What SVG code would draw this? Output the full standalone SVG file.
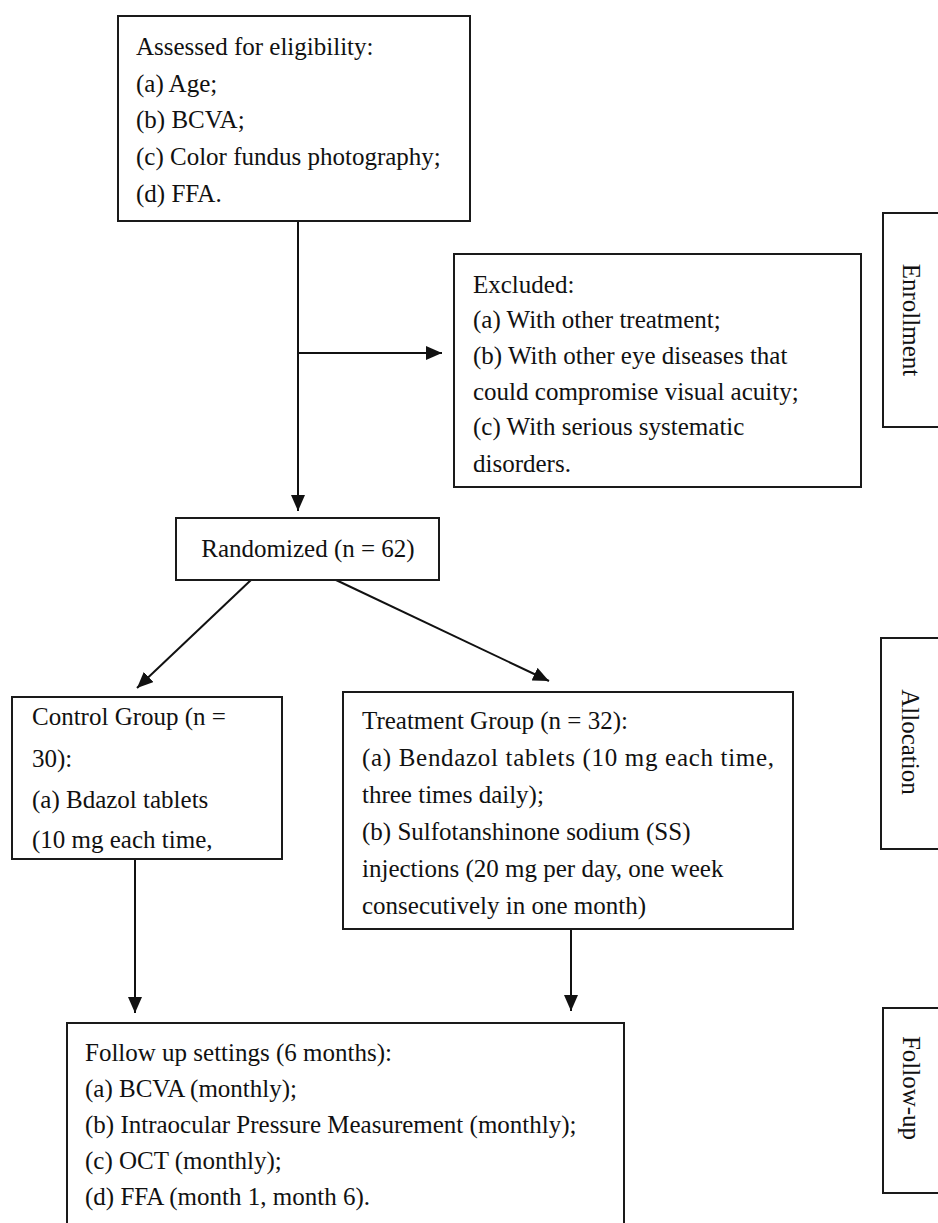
<svg xmlns="http://www.w3.org/2000/svg" width="938" height="1223" viewBox="0 0 938 1223">
<style>
.box{fill:#fff;stroke:#1a1a1a;stroke-width:2}
text{font-family:'Liberation Serif','Times New Roman',Times,serif;font-size:25px;fill:#111}
.c{fill:none;stroke:#111;stroke-width:2}
</style>
<defs>
<marker id="ah" markerUnits="userSpaceOnUse" markerWidth="16" markerHeight="14" refX="16" refY="7" orient="auto">
<path d="M0,0 L16,7 L0,14 z" fill="#111"/>
</marker>
</defs>
<rect width="938" height="1223" fill="#fff"/>
<g id="connectors">
<line class="c" x1="298" y1="221" x2="298" y2="511" marker-end="url(#ah)"/>
<line class="c" x1="298" y1="353" x2="442" y2="353" marker-end="url(#ah)"/>
<line class="c" x1="251" y1="580" x2="137" y2="688" marker-end="url(#ah)"/>
<line class="c" x1="336" y1="580" x2="549" y2="681" marker-end="url(#ah)"/>
<line class="c" x1="135" y1="859" x2="135" y2="1013" marker-end="url(#ah)"/>
<line class="c" x1="571" y1="929" x2="571" y2="1011" marker-end="url(#ah)"/>
</g>
<g id="assessed" font-family="Liberation Serif, Times New Roman, serif">
<rect class="box" x="118" y="16" width="352" height="205"/>
<text x="136" y="55">Assessed for eligibility:</text>
<text x="136" y="92">(a) Age;</text>
<text x="136" y="128">(b) BCVA;</text>
<text x="136" y="165">(c) Color fundus photography;</text>
<text x="136" y="202">(d) FFA.</text>
</g>
<g id="excluded">
<rect class="box" x="454" y="254" width="407" height="233"/>
<text x="473" y="293">Excluded:</text>
<text x="473" y="328">(a) With other treatment;</text>
<text x="473" y="364">(b) With other eye diseases that</text>
<text x="473" y="400">could compromise visual acuity;</text>
<text x="473" y="435">(c) With serious systematic</text>
<text x="473" y="472">disorders.</text>
</g>
<g id="enrollment">
<rect class="box" x="883" y="213" width="60" height="214"/>
<text transform="translate(903,320) rotate(90)" text-anchor="middle">Enrollment</text>
</g>
<g id="randomized">
<rect class="box" x="176" y="518" width="263" height="62"/>
<text x="308" y="557" text-anchor="middle">Randomized (n = 62)</text>
</g>
<g id="control">
<rect class="box" x="12" y="697" width="270" height="162"/>
<text x="32" y="725">Control Group (n =</text>
<text x="32" y="767">30):</text>
<text x="32" y="808">(a) Bdazol tablets</text>
<text x="32" y="848">(10 mg each time,</text>
</g>
<g id="treatment">
<rect class="box" x="343" y="692" width="450" height="237"/>
<text x="362" y="729">Treatment Group (n = 32):</text>
<text x="362" y="766" textLength="412" lengthAdjust="spacing">(a) Bendazol tablets (10 mg each time,</text>
<text x="362" y="803">three times daily);</text>
<text x="362" y="840">(b) Sulfotanshinone sodium (SS)</text>
<text x="362" y="877">injections (20 mg per day, one week</text>
<text x="362" y="914">consecutively in one month)</text>
</g>
<g id="allocation">
<rect class="box" x="881" y="638" width="62" height="211"/>
<text transform="translate(902,742) rotate(90)" text-anchor="middle">Allocation</text>
</g>
<g id="followup">
<rect class="box" x="67" y="1023" width="557" height="220"/>
<text x="85" y="1061">Follow up settings (6 months):</text>
<text x="85" y="1097">(a) BCVA (monthly);</text>
<text x="85" y="1133">(b) Intraocular Pressure Measurement (monthly);</text>
<text x="85" y="1169">(c) OCT (monthly);</text>
<text x="85" y="1205">(d) FFA (month 1, month 6).</text>
</g>
<g id="followup-label">
<rect class="box" x="883" y="1008" width="60" height="185"/>
<text transform="translate(903,1088) rotate(90)" text-anchor="middle">Follow-up</text>
</g>
</svg>
